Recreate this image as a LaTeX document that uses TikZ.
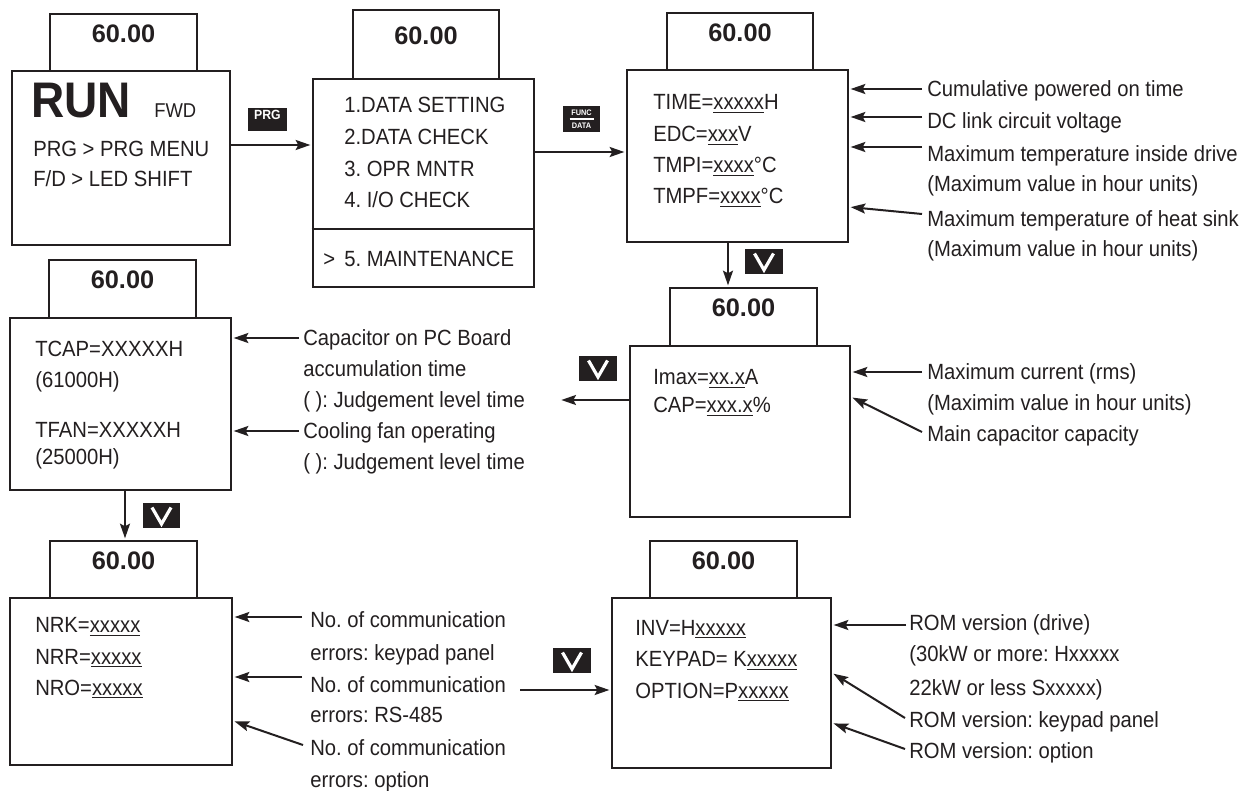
\documentclass[tikz,border=0pt]{standalone}
\usepackage{fontspec}
\setmainfont{Liberation Sans}[FakeStretch=0.92]
\newfontfamily\wideface{Liberation Sans}
\usetikzlibrary{arrows.meta,calc,fit}
\definecolor{ink}{RGB}{35,31,32}
\newcommand\lblfont{\fontsize{16.5}{20}\selectfont}
\newcommand\dispfont{\wideface\bfseries\fontsize{19}{22}\selectfont}
\newcommand\runfont{\bfseries\fontsize{37.5}{40}\selectfont}
\newcommand\keyfont{\bfseries\fontsize{10}{11}\selectfont}
\newcommand\fdfont{\bfseries\fontsize{6}{7}\selectfont}
\newcommand\ux[1]{\underline{#1}}
\frenchspacing
\begin{document}
\begin{tikzpicture}[x=0.75pt,y=-0.75pt,
  box/.style={draw=ink, line width=2pt, inner sep=0pt, text=ink},
  arr/.style={draw=ink, line width=1.5pt, -{Stealth[length=11pt,width=7.5pt,inset=2pt]}, shorten >=1pt},
  txt/.style={anchor=base west, inner sep=0pt, text=ink, font=\lblfont},
  key/.style={fill=ink, draw=none, inner sep=0pt},
  chev/.style={draw=white, line width=2.4pt, miter limit=10}]
\fill[white] (0,0) rectangle (1247,791);
\useasboundingbox (0,0) rectangle (1247,791);

% ---------- Screen 1
\node[box, fit={(12,71)(230,245)}] (b1) {};
\node[box, fit={(50,14)(197,71)}, font=\dispfont] (h1) {60.00};
\node[txt] (t11) at (31,118) {\runfont RUN};
\node[txt] (t12) at (154,118) {\fontsize{15}{18}\selectfont FWD};
\node[txt] (t13) at (33,157) {PRG > PRG MENU};
\node[txt] (t14) at (33,187) {F/D > LED SHIFT};

% ---------- Screen 2
\node[box, fit={(313,79)(534,287)}] (b2) {};
\node[box, fit={(353,10)(499,79)}, font=\dispfont] (h2) {60.00};
\coordinate (d2) at (0,229);
\draw[draw=ink, line width=2pt] (b2.west |- d2) -- (b2.east |- d2);
\node[txt] (t21) at (344,113) {1.DATA SETTING};
\node[txt] (t22) at (344,145) {2.DATA CHECK};
\node[txt] (t23) at (344,177) {3. OPR MNTR};
\node[txt] (t24) at (344,208) {4. I/O CHECK};
\node[txt] (t25) at (323,267) {>};
\node[txt] (t26) at (344,267) {5. MAINTENANCE};

% ---------- Screen 3
\node[box, fit={(627,70)(848,242)}] (b3) {};
\node[box, fit={(667,13)(813,70)}, font=\dispfont] (h3) {60.00};
\node[txt] (t31) at (653,110) {TIME=\ux{xxxxx}H};
\node[txt] (t32) at (653,142) {EDC=\ux{xxx}V};
\node[txt] (t33) at (653,173) {TMPI=\ux{xxxx}°C};
\node[txt] (t34) at (653,204) {TMPF=\ux{xxxx}°C};

% ---------- Screen 4
\node[box, fit={(630,346)(850,517)}] (b4) {};
\node[box, fit={(670,288)(817,346)}, font=\dispfont] (h4) {60.00};
\node[txt] (t41) at (653,385) {Imax=\ux{xx.x}A};
\node[txt] (t42) at (653,413) {CAP=\ux{xxx.x}\%};

% ---------- Screen 5
\node[box, fit={(10,318)(231,490)}] (b5) {};
\node[box, fit={(49,260)(196,318)}, font=\dispfont] (h5) {60.00};
\node[txt] (t51) at (35,357) {TCAP=XXXXXH};
\node[txt] (t52) at (35,388) {(61000H)};
\node[txt] (t53) at (35,438) {TFAN=XXXXXH};
\node[txt] (t54) at (35,465) {(25000H)};

% ---------- Screen 6
\node[box, fit={(10,598)(232,765)}] (b6) {};
\node[box, fit={(50,541)(197,598)}, font=\dispfont] (h6) {60.00};
\node[txt] (t61) at (35,633) {NRK=\ux{xxxxx}};
\node[txt] (t62) at (35,664) {NRR=\ux{xxxxx}};
\node[txt] (t63) at (35,695) {NRO=\ux{xxxxx}};

% ---------- Screen 7
\node[box, fit={(612,598)(831,768)}] (b7) {};
\node[box, fit={(650,541)(797,598)}, font=\dispfont] (h7) {60.00};
\node[txt] (t71) at (635,635) {INV=H\ux{xxxxx}};
\node[txt] (t72) at (635,667) {KEYPAD= K\ux{xxxxx}};
\node[txt] (t73) at (635,698) {OPTION=P\ux{xxxxx}};

% ---------- Keys
\node[key, fit={(248,108)(287,131)}, text=white, font=\keyfont] (kprg) {PRG};
\node[key, fit={(563,106)(600,132)}] (kfd) {};
\node[inner sep=0pt, text=white, font=\fdfont] (kfd1) at ($(kfd.center)+(0,-6)$) {FUNC};
\node[inner sep=0pt, text=white, font=\fdfont] (kfd2) at ($(kfd.center)+(0,6.5)$) {DATA};
\draw[white, line width=0.9pt] ($(kfd.center)+(-12,0)$) -- ($(kfd.center)+(12,0)$);
\node[key, fit={(745,249)(783,274)}] (kv1) {};
\node[key, fit={(579,356)(617,381)}] (kv2) {};
\node[key, fit={(143,503)(180,528)}] (kv3) {};
\node[key, fit={(553,648)(591,673)}] (kv4) {};
\foreach \k in {kv1,kv2,kv3,kv4}
  \draw[chev] ($(\k.center)+(-9.5,-8)$) -- ($(\k.center)+(0,8.5)$) -- ($(\k.center)+(9.5,-8)$);

% ---------- Flow arrows
\coordinate (y12) at (0,145);
\draw[arr] (b1.east |- y12) -- (b2.west |- y12);
\coordinate (y23) at (0,152);
\draw[arr] (b2.east |- y23) -- (b3.west |- y23);
\coordinate (x34) at (728,0);
\draw[arr] (b3.south -| x34) -- (h4.north -| x34);
\coordinate (c45) at (560,400);
\draw[arr] (c45 -| b4.west) -- (c45);
\coordinate (x56) at (125,0);
\draw[arr] (b5.south -| x56) -- (h6.north -| x56);
\coordinate (c67) at (520,690);
\draw[arr] (c67) -- (c67 -| b7.west);

% ---------- Labels screen 3
\node[txt] (l31) at (927,97) {Cumulative powered on time};
\node[txt] (l32) at (927,129) {DC link circuit voltage};
\node[txt] (l33) at (927,162) {Maximum temperature inside drive};
\node[txt] (l33b) at (927,192) {(Maximum value in hour units)};
\node[txt] (l34) at (927,227) {Maximum temperature of heat sink};
\node[txt] (l34b) at (927,257) {(Maximum value in hour units)};
\coordinate (c31) at ($(l31.base west)+(-5,-8)$);
\coordinate (c32) at ($(l32.base west)+(-5,-12)$);
\coordinate (c33) at ($(l33.base west)+(-5,-15)$);
\coordinate (c34) at ($(l34.base west)+(-5,-13)$);
\draw[arr] (c31) -- (c31 -| b3.east);
\draw[arr] (c32) -- (c32 -| b3.east);
\draw[arr] (c33) -- (c33 -| b3.east);
\draw[arr] (c34) -- ($(c34 -| b3.east)+(0,-7)$);

% ---------- Labels screen 4
\node[txt] (l41) at (927,380) {Maximum current (rms)};
\node[txt] (l41b) at (927,411) {(Maximim value in hour units)};
\node[txt] (l42) at (927,442) {Main capacitor capacity};
\coordinate (c41) at ($(l41.base west)+(-5,-8)$);
\coordinate (c42) at ($(l42.base west)+(-5,-10)$);
\draw[arr] (c41) -- (c41 -| b4.east);
\draw[arr] (c42) -- ($(c42 -| b4.east)+(0,-35)$);

% ---------- Labels screen 5
\node[txt] (l51) at (303,346) {Capacitor on PC Board};
\node[txt] (l52) at (303,377) {accumulation time};
\node[txt] (l53) at (303,408) {( ): Judgement level time};
\node[txt] (l54) at (303,439) {Cooling fan operating};
\node[txt] (l55) at (303,470) {( ): Judgement level time};
\coordinate (c51) at ($(l51.base west)+(-4,-8)$);
\coordinate (c52) at ($(l54.base west)+(-4,-8)$);
\draw[arr] (c51) -- (c51 -| b5.east);
\draw[arr] (c52) -- (c52 -| b5.east);

% ---------- Labels screen 6
\node[txt] (l61) at (310,628) {No. of communication};
\node[txt] (l62) at (310,660) {errors: keypad panel};
\node[txt] (l63) at (310,692) {No. of communication};
\node[txt] (l64) at (310,722) {errors: RS-485};
\node[txt] (l65) at (310,755) {No. of communication};
\node[txt] (l66) at (310,787) {errors: option};
\coordinate (c61) at ($(l61.base west)+(-8,-11)$);
\coordinate (c62) at ($(l63.base west)+(-8,-15)$);
\coordinate (c63) at ($(l65.base west)+(-7,-10)$);
\draw[arr] (c61) -- (c61 -| b6.east);
\draw[arr] (c62) -- (c62 -| b6.east);
\draw[arr] (c63) -- ($(c63 -| b6.east)+(0,-24)$);

% ---------- Labels screen 7
\node[txt] (l71) at (909,630) {ROM version (drive)};
\node[txt] (l72) at (909,662) {(30kW or more: Hxxxxx};
\node[txt] (l73) at (909,695) {22kW or less Sxxxxx)};
\node[txt] (l74) at (909,727) {ROM version: keypad panel};
\node[txt] (l75) at (909,758) {ROM version: option};
\coordinate (c71) at ($(l71.base west)+(-3,-5)$);
\coordinate (c72) at ($(l74.base west)+(-4,-9)$);
\coordinate (c73) at ($(l75.base west)+(-4,-9)$);
\draw[arr] (c71) -- (c71 -| b7.east);
\draw[arr] (c72) -- ($(c72 -| b7.east)+(0,-45)$);
\draw[arr] (c73) -- ($(c73 -| b7.east)+(0,-26)$);
\end{tikzpicture}
\end{document}
